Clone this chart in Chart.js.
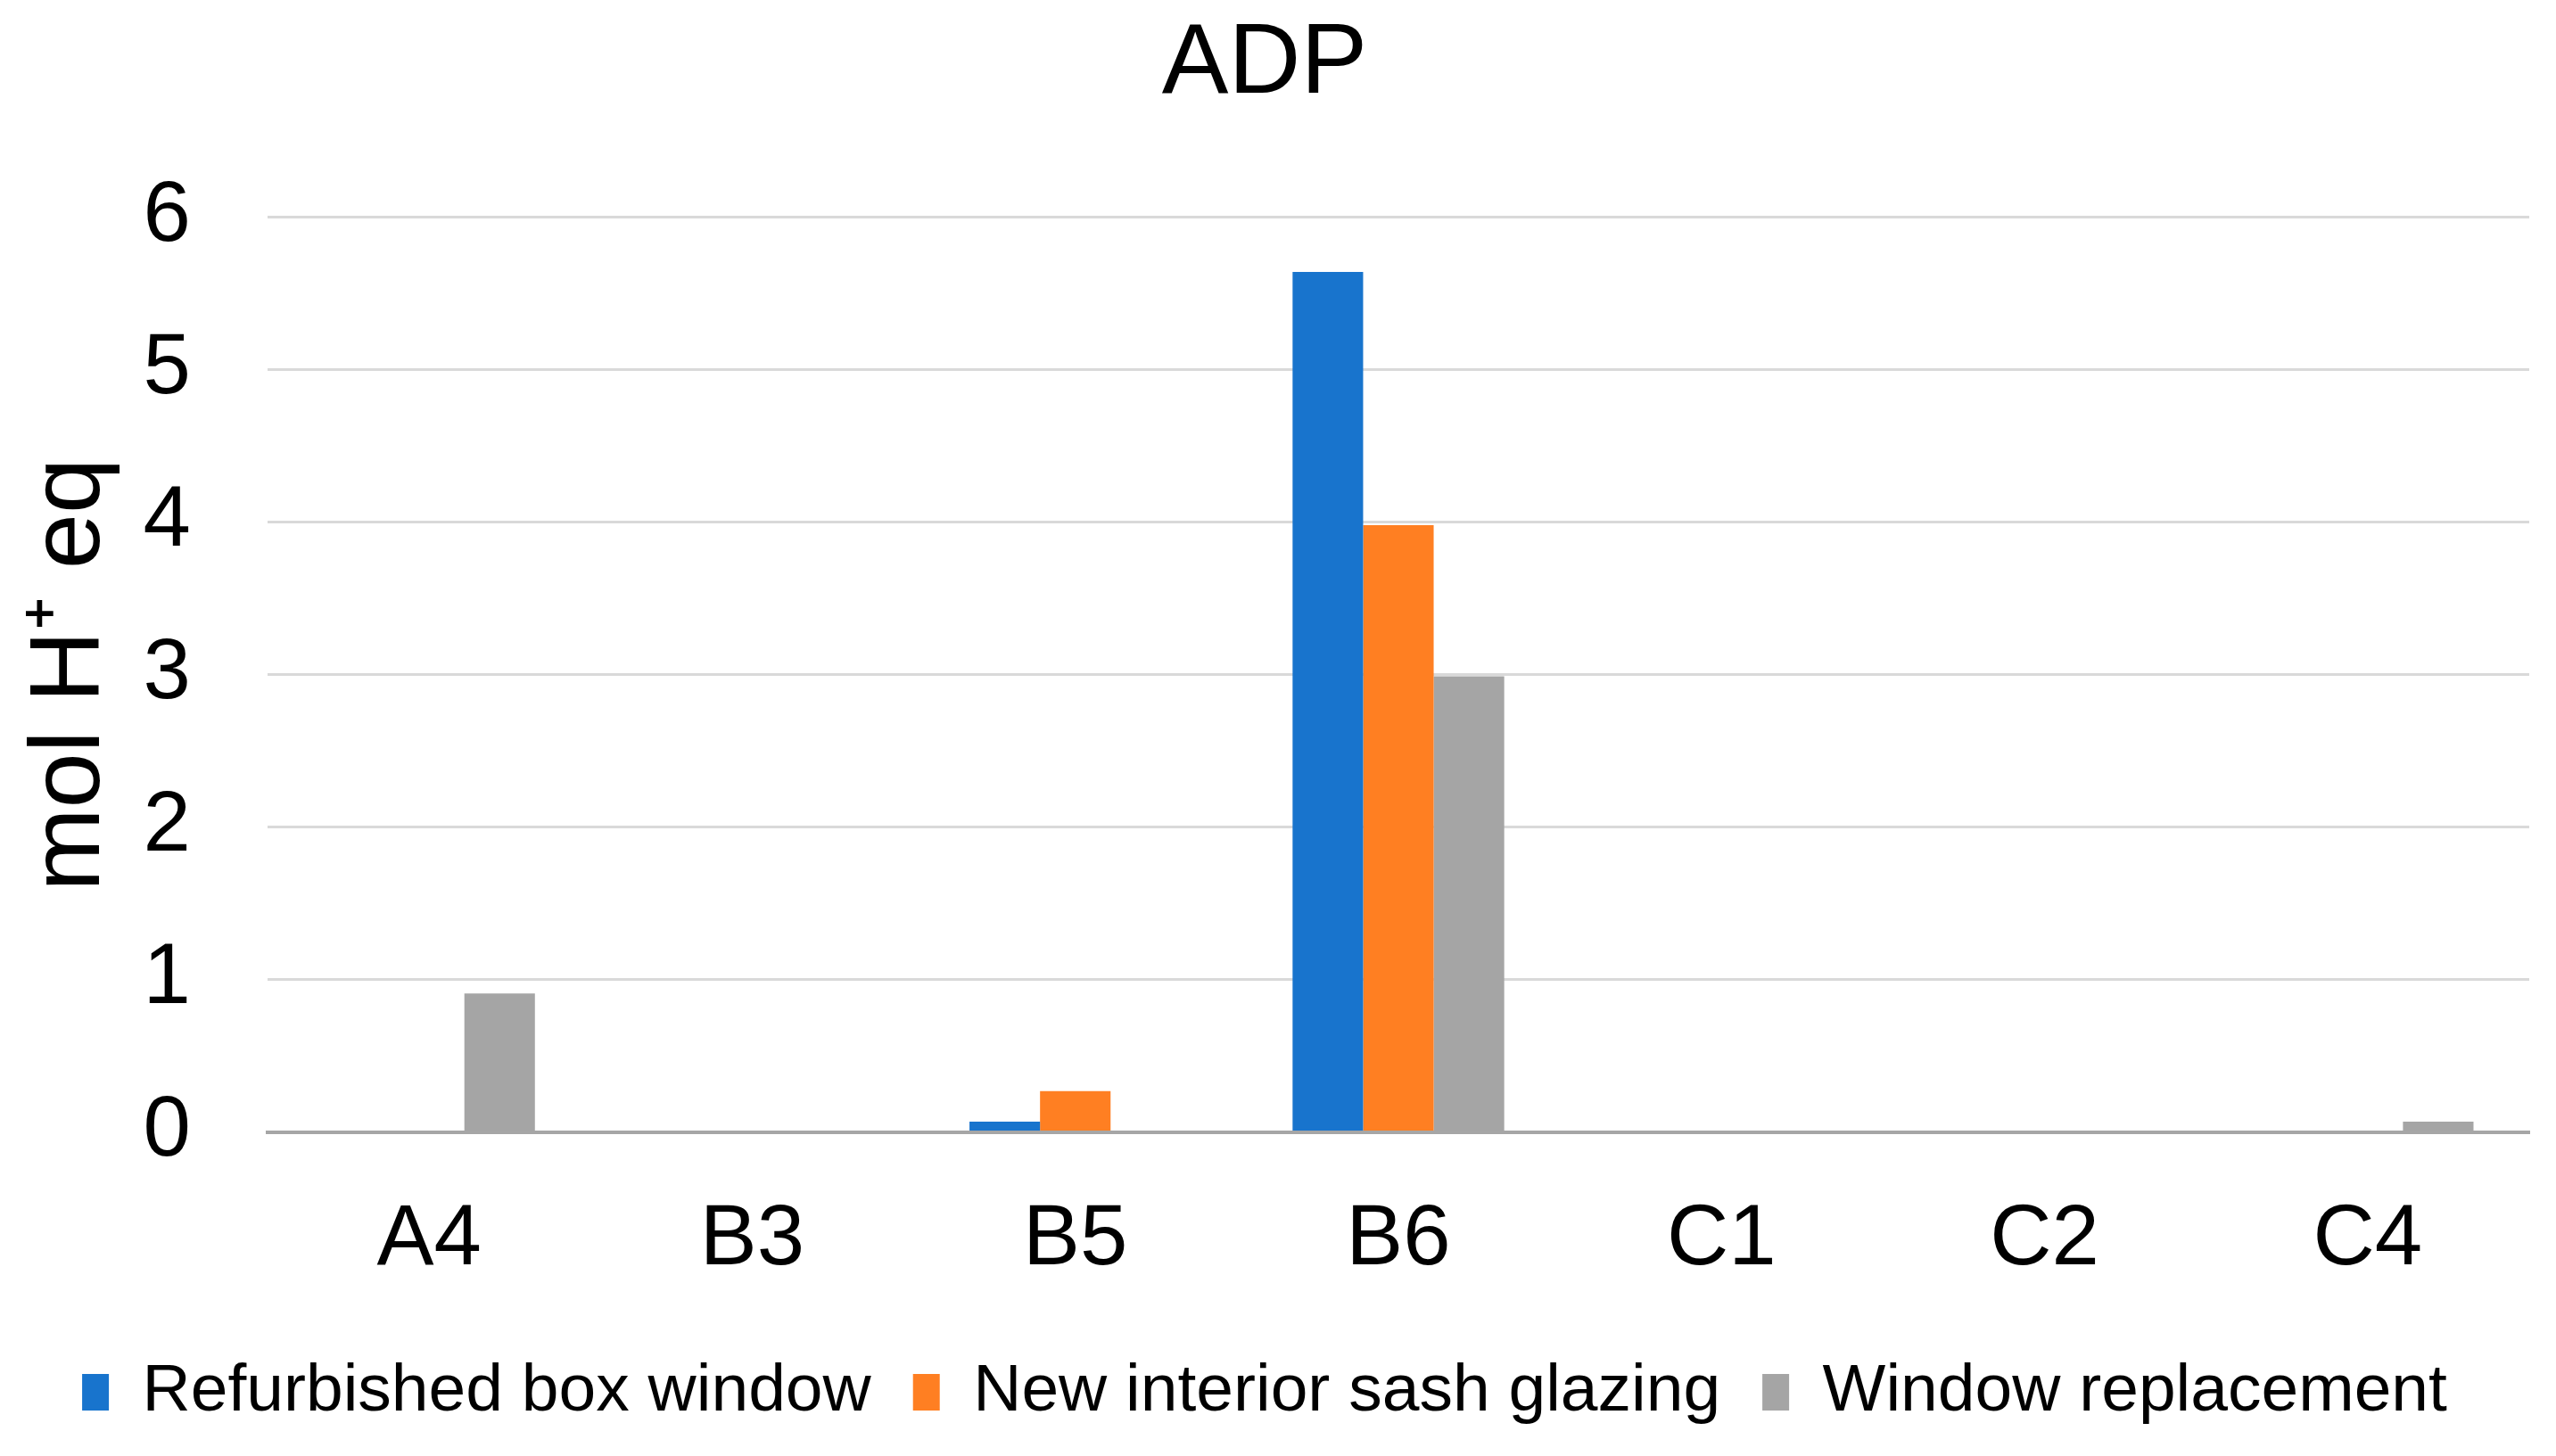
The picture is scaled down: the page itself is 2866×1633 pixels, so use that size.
<!DOCTYPE html>
<html>
<head>
<meta charset="utf-8">
<script src="https://cdn.jsdelivr.net/npm/chart.js@4.4.1/dist/chart.umd.min.js"></script>
<style>
  html, body { margin: 0; padding: 0; background: #ffffff; }
  #wrap { width: 2866px; height: 1633px; }
</style>
</head>
<body>
<div id="wrap"><canvas id="c" width="2866" height="1633"></canvas></div>
<script>
const categories = ['A4', 'B3', 'B5', 'B6', 'C1', 'C2', 'C4'];
const refurbishedBoxWindow = [0, 0, 0.07, 5.64, 0, 0, 0];
const newInteriorSashGlazing = [0, 0, 0.27, 3.98, 0, 0, 0];
const windowReplacement = [0.91, 0, 0, 2.99, 0, 0, 0.07];
const yTicks = [0, 1, 2, 3, 4, 5, 6];

const FONT = "'Liberation Sans', Arial, sans-serif";

new Chart(document.getElementById('c'), {
  type: 'bar',
  data: {
    labels: categories,
    datasets: [
      { label: 'Refurbished box window', data: refurbishedBoxWindow, backgroundColor: '#1874CD' },
      { label: 'New interior sash glazing', data: newInteriorSashGlazing, backgroundColor: '#FF7F22' },
      { label: 'Window replacement', data: windowReplacement, backgroundColor: '#A5A5A5' }
    ]
  },
  options: {
    responsive: false,
    animation: false,
    devicePixelRatio: 1,
    layout: { padding: { left: 0, right: 30, top: 0, bottom: 24 } },
    datasets: { bar: { categoryPercentage: 0.655, barPercentage: 1.0 } },
    plugins: {
      title: {
        display: true,
        text: 'ADP',
        color: '#000000',
        font: { family: FONT, size: 112, weight: 'normal' },
        padding: { top: 6, bottom: 103 }
      },
      legend: {
        display: true,
        position: 'bottom',
        labels: {
          boxWidth: 30,
          boxHeight: 41,
          padding: 47,
          color: '#000000',
          font: { family: FONT, size: 75 }
        }
      },
      tooltip: { enabled: false }
    },
    scales: {
      x: {
        grid: { display: false, drawTicks: false },
        border: { display: true, color: '#A6A6A6', width: 4 },
        ticks: { color: '#000000', font: { family: FONT, size: 96 }, padding: 64 },
        afterFit: (s) => { s.height = 207; }
      },
      y: {
        min: 0,
        max: 6,
        afterBuildTicks: (s) => { s.ticks = yTicks.map(v => ({ value: v })); },
        ticks: { color: '#000000', font: { family: FONT, size: 96 }, padding: 86 },
        grid: {
          drawTicks: false,
          color: (ctx) => (ctx.tick && ctx.tick.value === 0) ? '#A6A6A6' : '#D9D9D9',
          lineWidth: (ctx) => (ctx.tick && ctx.tick.value === 0) ? 4 : 3
        },
        border: { display: false },
        title: {
          display: true,
          text: 'mol H\u207A eq',
          color: '#000000',
          font: { family: FONT, size: 112 },
          padding: { top: 13, bottom: 0 }
        },
        afterFit: (s) => { s.width = 300; }
      }
    }
  }
});
</script>
</body>
</html>
